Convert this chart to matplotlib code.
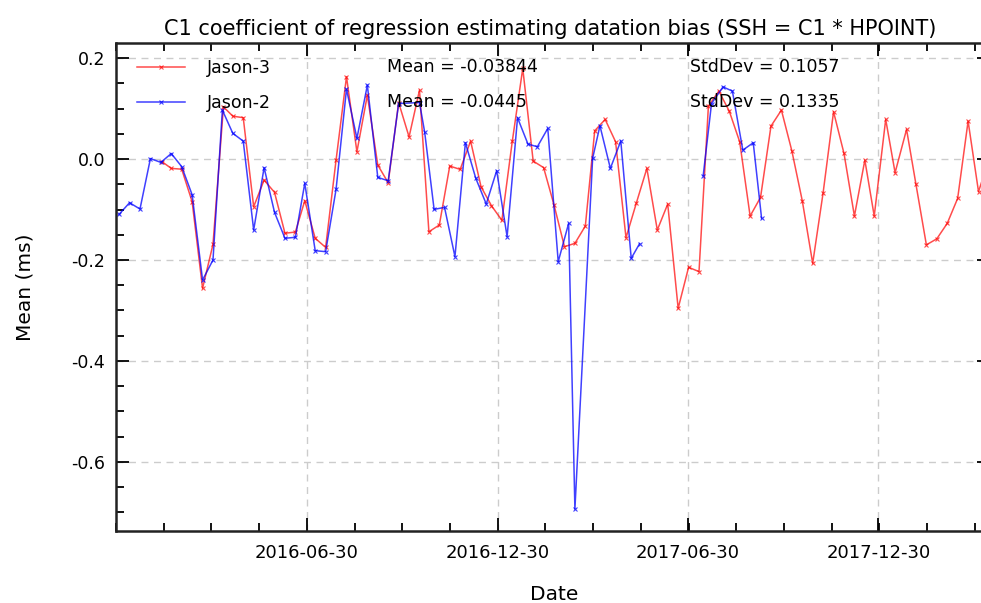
import matplotlib
matplotlib.use("Agg")
import matplotlib.pyplot as plt
import matplotlib.dates as mdates
from matplotlib.ticker import FixedLocator, MultipleLocator, FormatStrFormatter
import numpy as np
import pandas as pd

# ---------------- data ----------------
j3_dates = ["2016-02-12", "2016-02-21", "2016-03-02", "2016-03-12", "2016-03-22", "2016-04-01",
            "2016-04-11", "2016-04-20", "2016-04-30", "2016-05-10", "2016-05-20", "2016-05-30",
            "2016-06-09", "2016-06-19", "2016-06-28", "2016-07-08", "2016-07-18", "2016-07-28",
            "2016-08-07", "2016-08-17", "2016-08-27", "2016-09-06", "2016-09-16", "2016-09-26",
            "2016-10-06", "2016-10-16", "2016-10-25", "2016-11-04", "2016-11-14", "2016-11-24",
            "2016-12-04", "2016-12-14", "2016-12-24", "2017-01-03", "2017-01-13", "2017-01-23",
            "2017-02-02", "2017-02-12", "2017-02-22", "2017-03-04", "2017-03-14", "2017-03-24",
            "2017-04-02", "2017-04-12", "2017-04-22", "2017-05-02", "2017-05-12", "2017-05-22",
            "2017-06-01", "2017-06-11", "2017-06-21", "2017-07-01", "2017-07-11", "2017-07-20",
            "2017-07-30", "2017-08-09", "2017-08-19", "2017-08-29", "2017-09-08", "2017-09-18",
            "2017-09-28", "2017-10-08", "2017-10-18", "2017-10-28", "2017-11-07", "2017-11-17",
            "2017-11-27", "2017-12-07", "2017-12-17", "2017-12-26", "2018-01-06", "2018-01-15",
            "2018-01-26", "2018-02-04", "2018-02-14", "2018-02-24", "2018-03-06", "2018-03-16",
            "2018-03-26", "2018-04-05", "2018-04-15"]
j3_values = [-0.005, -0.0185, -0.020, -0.0845, -0.256, -0.169,
             0.1036, 0.085, 0.082, -0.0944, -0.0416, -0.066,
             -0.147, -0.1446, -0.0825, -0.157, -0.175, -0.002,
             0.163, 0.0145, 0.1267, -0.0119, -0.047, 0.112,
             0.044, 0.1366, -0.144, -0.1307, -0.0139, -0.0204,
             0.0356, -0.0548, -0.0924, -0.1214, 0.0356, 0.1796,
             -0.004, -0.017, -0.091, -0.1736, -0.167, -0.1327,
             0.056, 0.0786, 0.0343, -0.1558, -0.0865, -0.0185,
             -0.1406, -0.0891, -0.2957, -0.2145, -0.223, 0.105,
             0.1347, 0.095, 0.0343, -0.1129, -0.0759, 0.0653,
             0.097, 0.0164, -0.0825, -0.2066, -0.0667, 0.0937,
             0.0113, -0.1129, -0.002, -0.1129, 0.0786, -0.027,
             0.0588, -0.050, -0.170, -0.158, -0.1274, -0.0778,
             0.0752, -0.0647, 0.000]

j2_dates = ["2016-01-02", "2016-01-12", "2016-01-22", "2016-02-01", "2016-02-11", "2016-02-21",
            "2016-03-02", "2016-03-12", "2016-03-22", "2016-04-01", "2016-04-10", "2016-04-20",
            "2016-04-30", "2016-05-10", "2016-05-20", "2016-05-30", "2016-06-09", "2016-06-19",
            "2016-06-28", "2016-07-08", "2016-07-18", "2016-07-28", "2016-08-07", "2016-08-17",
            "2016-08-27", "2016-09-06", "2016-09-16", "2016-09-26", "2016-10-16", "2016-10-21",
            "2016-10-30", "2016-11-09", "2016-11-19", "2016-11-29", "2016-12-09", "2016-12-19",
            "2016-12-29", "2017-01-08", "2017-01-18", "2017-01-28", "2017-02-06", "2017-02-16",
            "2017-02-26", "2017-03-08", "2017-03-14", "2017-03-31", "2017-04-07", "2017-04-17",
            "2017-04-27", "2017-05-07", "2017-05-15", "2017-07-15", "2017-07-23", "2017-08-03",
            "2017-08-12", "2017-08-22", "2017-09-01", "2017-09-09"]
j2_values = [-0.1095, -0.0865, -0.099, 0.001, -0.0066, 0.011,
             -0.015, -0.0707, -0.2396, -0.200, 0.097, 0.051,
             0.0356, -0.1406, -0.017, -0.1056, -0.157, -0.155,
             -0.048, -0.1815, -0.1835, -0.060, 0.1386, 0.041,
             0.1465, -0.0363, -0.043, 0.110, 0.112, 0.0528,
             -0.0997, -0.0957, -0.1934, 0.0323, -0.0383, -0.089,
             -0.023, -0.1538, 0.0818, 0.0297, 0.0244, 0.0608,
             -0.2033, -0.1274, -0.6937, 0.0014, 0.066, -0.0185,
             0.036, -0.1967, -0.1677, -0.033, 0.110, 0.143,
             0.1347, 0.0178, 0.0323, -0.1175]

series_labels = ["Jason-3", "Jason-2"]
mean_texts = ["Mean = -0.03844", "Mean = -0.0445"]
std_texts = ["StdDev = 0.1057", "StdDev = 0.1335"]
major_tick_dates = ["2016-06-30", "2016-12-30", "2017-06-30", "2017-12-30"]
x_limits = ["2015-12-30", "2018-04-16"]
y_limits = [-0.737, 0.23]
title = "C1 coefficient of regression estimating datation bias (SSH = C1 * HPOINT)"


def with_gaps(dates, values, max_gap_days=30):
    d = pd.to_datetime(dates)
    v = np.asarray(values, dtype=float)
    out_d, out_v = [d[0]], [v[0]]
    for i in range(1, len(d)):
        if (d[i] - d[i - 1]).days > max_gap_days:
            out_d.append(d[i - 1] + (d[i] - d[i - 1]) / 2)
            out_v.append(np.nan)
        out_d.append(d[i])
        out_v.append(v[i])
    return out_d, out_v


plt.rcParams['font.family'] = ['DejaVu Sans']
W, H = 981, 603
fig = plt.figure(figsize=(W / 100, H / 100), dpi=100)
L, R, T, B = 116, 990, 43, 531
ax = fig.add_axes([L / W, 1 - B / H, (R - L) / W, (B - T) / H])

d3, v3 = with_gaps(j3_dates, j3_values)
d2, v2 = with_gaps(j2_dates, j2_values)
l3, = ax.plot(d3, v3, color='#ff0000', alpha=0.7, lw=1.1, marker='x', ms=3, mew=0.8,
              label=series_labels[0])
l2, = ax.plot(d2, v2, color='#0000ff', alpha=0.75, lw=1.1, marker='x', ms=3, mew=0.8,
              label=series_labels[1])

ax.set_xlim(pd.to_datetime(x_limits[0]), pd.to_datetime(x_limits[1]))
ax.set_ylim(*y_limits)

major_nums = [mdates.date2num(pd.to_datetime(s)) for s in major_tick_dates]
step = (major_nums[1] - major_nums[0]) / 4.0
minor_nums = [major_nums[0] + k * step for k in range(-4, 20)]
ax.xaxis.set_major_locator(FixedLocator(major_nums))
ax.xaxis.set_minor_locator(FixedLocator(minor_nums))
ax.set_xticklabels(major_tick_dates)
ax.yaxis.set_major_locator(MultipleLocator(0.2))
ax.yaxis.set_minor_locator(MultipleLocator(0.05))
ax.yaxis.set_major_formatter(FormatStrFormatter('%.1f'))

ax.tick_params(which='both', direction='in', top=True, right=True, width=1.3)
ax.tick_params(which='major', length=9.5)
ax.tick_params(which='minor', length=5.5)
ax.tick_params(axis='x', which='major', labelsize=13, pad=9)
ax.tick_params(axis='y', which='major', labelsize=12.5, pad=8)
for sp in ax.spines.values():
    sp.set_linewidth(1.8)
    sp.set_color('#222222')

ax.grid(True, which='major', linestyle=(0, (5, 4)), color='#cccccc', linewidth=1.0)

fig.text(550 / W, 1 - 29 / H, title, fontsize=15, ha='center', va='center')
fig.text(554 / W, 1 - 594 / H, "Date", fontsize=14.5, ha='center', va='center')
ax.set_ylabel("Mean (ms)", fontsize=14.5, labelpad=26)

leg = ax.legend(handles=[l3, l2], loc='upper left', frameon=False, fontsize=12.5,
                bbox_to_anchor=(0.0, 1.0 + 5 / (B - T)), handlelength=2.75, handletextpad=1.3,
                labelspacing=1.0, borderaxespad=0.6, borderpad=0.6)

row_y = [67, 102]
for i in range(2):
    fig.text(387 / W, 1 - row_y[i] / H, mean_texts[i], fontsize=12.5, va='center', ha='left')
    fig.text(690 / W, 1 - row_y[i] / H, std_texts[i], fontsize=12.5, va='center', ha='left')

fig.savefig("out.png", dpi=100)
